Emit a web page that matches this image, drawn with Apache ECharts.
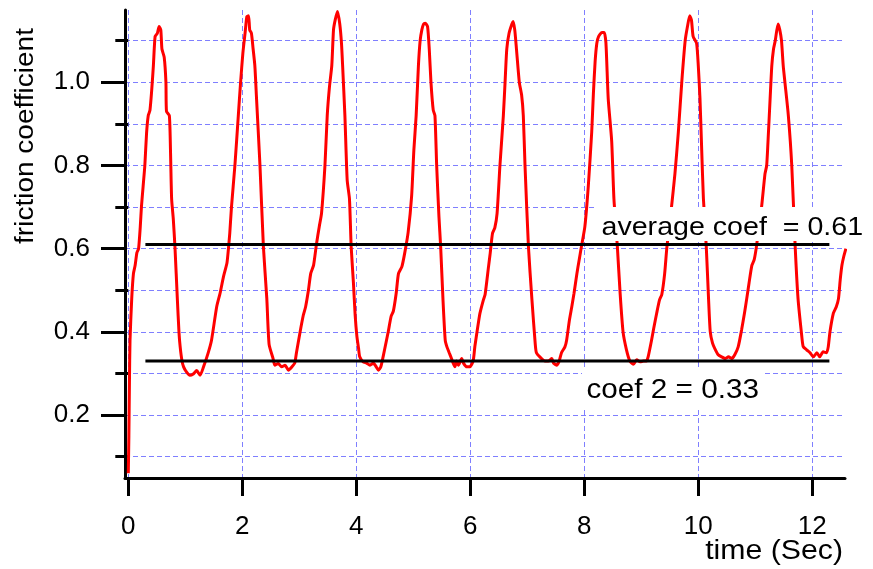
<!DOCTYPE html>
<html>
<head>
<meta charset="utf-8">
<script src="https://cdn.jsdelivr.net/npm/echarts@6/dist/echarts.min.js"></script>
<style>
html,body{margin:0;padding:0;background:#fff;}
#chart{width:873px;height:569px;}
</style>
</head>
<body>
<div id="chart"></div>
<script>
// ---- data ----
const timeSec = [
  0.00,0.01,0.02,0.03,0.06,0.09,0.12,0.15,0.18,0.21,0.23,0.26,0.29,0.32,0.35,0.38,0.41,0.44,0.47,0.51,0.54,0.57,0.59,0.63,0.66,0.67,0.72,0.74,0.76,0.79,0.82,0.86,0.89,0.91,
  0.94,0.97,1.02,1.08,1.14,1.20,1.26,1.32,1.40,1.46,1.55,1.61,1.67,1.73,1.75,1.78,1.81,1.87,1.93,1.97,2.01,2.05,2.08,2.11,2.13,2.16,2.19,2.22,2.25,2.31,2.37,2.43,2.47,
  2.54,2.57,2.63,2.69,2.75,2.81,2.87,2.92,2.95,3.01,3.07,3.11,3.16,3.20,3.25,3.30,3.35,3.39,3.45,3.49,3.53,3.57,3.60,3.63,3.67,3.71,3.74,3.76,3.80,3.84,3.88,3.91,3.95,3.98,4.01,4.04,
  4.06,4.12,4.18,4.24,4.30,4.35,4.39,4.43,4.47,4.53,4.56,4.61,4.65,4.70,4.74,4.80,4.85,4.91,4.97,5.01,5.05,5.09,5.12,5.15,5.18,5.21,5.25,5.28,5.31,5.35,5.38,5.41,5.45,5.48,5.52,5.56,
  5.59,5.63,5.67,5.70,5.73,5.76,5.79,5.85,5.88,5.94,5.99,6.05,6.08,6.14,6.17,6.23,6.26,6.32,6.35,6.39,6.43,6.47,6.52,6.58,6.61,6.64,6.68,6.73,6.75,6.78,6.81,6.86,6.90,6.93,6.96,7.02,7.08,7.14,
  7.16,7.22,7.31,7.37,7.43,7.46,7.52,7.56,7.60,7.66,7.69,7.74,7.78,7.82,7.87,7.91,7.95,8.01,8.07,8.13,8.16,8.19,8.22,8.25,8.31,8.35,8.38,8.42,8.48,8.52,8.58,8.63,8.68,8.74,
  8.80,8.86,8.92,8.98,9.04,9.09,9.12,9.18,9.22,9.27,9.32,9.36,9.41,9.45,9.53,9.59,9.65,9.71,9.77,9.81,9.85,9.88,9.91,9.97,10.00,10.03,10.06,10.09,10.14,10.18,10.21,
  10.25,10.29,10.35,10.41,10.47,10.53,10.59,10.64,10.70,10.76,10.81,10.85,10.89,10.94,10.98,11.02,11.11,11.17,11.20,11.23,11.26,11.29,11.32,11.35,11.40,11.43,11.46,11.49,11.52,11.58,11.64,11.70,11.75,11.81,
  11.84,11.90,11.96,12.02,12.08,12.13,12.19,12.25,12.28,12.31,12.37,12.42,12.46,12.49,12.52,12.55,12.59
];
const friction = [
  0.06,0.15,0.28,0.38,0.48,0.54,0.56,0.59,0.60,0.653,0.70,0.75,0.80,0.877,0.92,0.933,0.98,1.04,1.11,1.118,1.134,1.126,1.08,1.06,1.00,0.93,0.92,0.837,0.72,0.67,0.60,0.48,0.397,0.364,
  0.332,0.316,0.304,0.296,0.299,0.307,0.296,0.316,0.349,0.38,0.46,0.493,0.533,0.565,0.59,0.637,0.70,0.80,0.92,1.00,1.07,1.12,1.158,1.16,1.126,1.118,1.08,1.04,0.96,0.80,0.605,0.48,0.37,
  0.336,0.32,0.324,0.316,0.32,0.308,0.316,0.325,0.35,0.397,0.44,0.46,0.50,0.54,0.56,0.61,0.653,0.685,0.80,0.92,0.99,1.04,1.126,1.15,1.17,1.14,1.094,1.04,0.92,0.765,0.72,0.605,0.517,0.44,0.39,0.36,
  0.34,0.328,0.325,0.32,0.325,0.316,0.308,0.316,0.34,0.38,0.40,0.437,0.45,0.493,0.54,0.557,0.59,0.64,0.725,0.837,0.92,1.04,1.10,1.126,1.14,1.142,1.134,1.08,1.00,0.933,0.92,0.80,0.677,0.605,0.48,0.38,
  0.364,0.35,0.336,0.325,0.316,0.33,0.32,0.336,0.325,0.316,0.316,0.33,0.365,0.42,0.445,0.477,0.49,0.557,0.59,0.637,0.65,0.685,0.80,0.92,1.00,1.08,1.118,1.14,1.146,1.126,1.08,1.00,0.97,0.92,0.80,0.605,0.48,0.37,
  0.35,0.34,0.33,0.33,0.336,0.325,0.32,0.33,0.35,0.364,0.38,0.429,0.46,0.493,0.54,0.573,0.605,0.653,0.75,0.88,0.974,1.05,1.094,1.11,1.12,1.12,1.094,0.96,0.86,0.72,0.605,0.49,0.40,0.357,
  0.33,0.322,0.333,0.328,0.33,0.33,0.34,0.38,0.41,0.445,0.477,0.49,0.54,0.605,0.70,0.78,0.88,1.00,1.10,1.134,1.16,1.15,1.11,1.094,1.04,0.96,0.837,0.72,0.605,0.48,0.40,
  0.373,0.36,0.345,0.34,0.336,0.34,0.336,0.345,0.364,0.405,0.445,0.48,0.517,0.56,0.573,0.605,0.70,0.78,0.80,0.877,0.96,1.04,1.08,1.10,1.14,1.126,1.10,1.04,1.00,0.92,0.80,0.605,0.48,0.397,
  0.365,0.357,0.35,0.34,0.35,0.34,0.352,0.35,0.364,0.40,0.445,0.46,0.48,0.525,0.56,0.58,0.60
];
const xTicks = [0,2,4,6,8,10,12];
const yMajorTicks = [0.2,0.4,0.6,0.8,1.0];
const yMinorTicks = [0.1,0.3,0.5,0.7,0.9,1.1];
const refLineX = [0.3,12.3];
const averageCoef = 0.61;
const coef2 = 0.33;
const averageLabel = 'average coef  = 0.61';
const coef2Label = 'coef 2 = 0.33';
const xTitle = 'time (Sec)';
const yTitle = 'friction coefficient';

// ---- chart ----
const FONT = '"Liberation Sans", Arial, sans-serif';
const chart = echarts.init(document.getElementById('chart'), null, {renderer:'canvas'});
const n = Math.min(timeSec.length, friction.length);
const curve = [];
for (let i = 0; i < n; i++) curve.push([timeSec[i], friction[i]]);
const avgLine = refLineX.map(x=>[x, averageCoef]);
const c2Line = refLineX.map(x=>[x, coef2]);
const gridLine = {show:true, lineStyle:{color:'#7f7fff', width:1, type:[5,3]}};
const option = {
  animation:false,
  backgroundColor:'#ffffff',
  grid: {left:125, right:28, top:10, bottom:91},
  xAxis: {
    type:'value', min:-0.058, max:12.574,
    axisLine:{show:true, onZero:false, lineStyle:{color:'#000', width:3}},
    axisTick:{show:true, inside:false, length:18, customValues:xTicks, lineStyle:{color:'#000', width:3}},
    axisLabel:{show:true, customValues:xTicks, margin:36, color:'#000', fontSize:26, fontFamily:FONT},
    splitLine: gridLine
  },
  yAxis: [
    {
      type:'value', min:0.0488, max:1.1738,
      axisLine:{show:true, onZero:false, lineStyle:{color:'#000', width:3}},
      axisTick:{show:true, inside:false, length:24, customValues:yMajorTicks, lineStyle:{color:'#000', width:3}},
      axisLabel:{show:true, customValues:yMajorTicks, margin:35, color:'#000', fontSize:26, fontFamily:FONT,
        formatter:v=>Number(v).toFixed(1)},
      splitLine: gridLine
    },
    {
      type:'value', min:0.0488, max:1.1738, position:'left',
      axisLine:{show:false},
      axisTick:{show:true, inside:false, length:13, customValues:yMinorTicks, lineStyle:{color:'#000', width:3}},
      axisLabel:{show:false, customValues:yMinorTicks},
      splitLine: gridLine
    }
  ],
  series: [
    {type:'line', data:curve, symbol:'none', smooth:0.2, lineStyle:{color:'#ff0000', width:3}, z:3},
    {type:'line', data:avgLine, symbol:'none', lineStyle:{color:'#000', width:3}, z:4},
    {type:'line', data:c2Line, symbol:'none', lineStyle:{color:'#000', width:3}, z:4}
  ],
  graphic: [
    {type:'text', z:100, x:596, y:207, scaleX:1.1, style:{text:averageLabel, font:'26px '+FONT, fill:'#000', backgroundColor:'#fff', padding:[8,5,0,5]}},
    {type:'text', z:100, x:582, y:368, scaleX:1.1, style:{text:coef2Label, font:'27px '+FONT, fill:'#000', backgroundColor:'#fff', padding:[9,5,3,4]}},
    {type:'text', z:100, x:26, y:136, rotation:Math.PI/2, scaleX:1.12, style:{text:yTitle, font:'25px '+FONT, fill:'#000', align:'center', verticalAlign:'middle'}},
    {type:'text', z:100, x:843, y:552, scaleX:1.12, style:{text:xTitle, font:'27px '+FONT, fill:'#000', align:'right', verticalAlign:'middle'}}
  ]
};
chart.setOption(option);
</script>
</body>
</html>
